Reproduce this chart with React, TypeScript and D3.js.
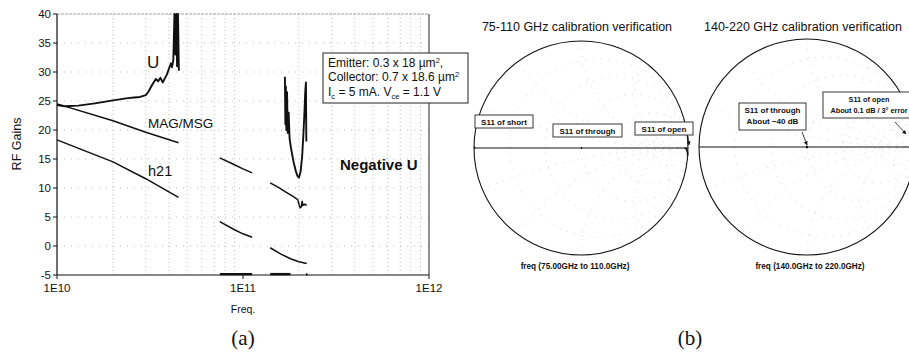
import React from 'react';
import * as d3 from 'd3';

type P = [number, number];

// ---------- (a) RF gains data ----------
const yTicks = [-5, 0, 5, 10, 15, 20, 25, 30, 35, 40];
const yGrid = [0, 5, 10, 15, 20, 25, 30, 35];
const xTickValues = [1e10, 1e11, 1e12];
const xTickLabels = ['1E10', '1E11', '1E12'];

const uLow: P[] = [
  [1e10, 24.3], [1.1e10, 24.1], [1.3e10, 24.2], [1.6e10, 24.6], [2e10, 25.1], [2.4e10, 25.5],
  [2.6e10, 25.6], [2.8e10, 25.7], [3e10, 26], [3.1e10, 26.6], [3.25e10, 27.8], [3.4e10, 28.8],
  [3.5e10, 28.4], [3.6e10, 29], [3.7e10, 28.2], [3.8e10, 28.9], [3.9e10, 29.6], [4.0e10, 30.6],
  [4.1e10, 31.5], [4.15e10, 30.8], [4.22e10, 32], [4.28e10, 40], [4.33e10, 33], [4.38e10, 40],
  [4.42e10, 31], [4.47e10, 40], [4.52e10, 30.2],
];
const magLow: P[] = [[1e10, 24.5], [2e10, 21.6], [3e10, 19.6], [4.5e10, 17.8]];
const h21Low: P[] = [[1e10, 18.3], [2e10, 14.5], [3e10, 11.6], [4.5e10, 8.4]];

const magMid: P[] = [[7.5e10, 15.2], [9e10, 14.0], [1.0e11, 13.3], [1.12e11, 12.6]];
const h21Mid: P[] = [[7.5e10, 4.2], [9e10, 2.8], [1.0e11, 2.1], [1.12e11, 1.5]];

const uHigh: P[] = [
  [1.68e11, 29.2], [1.69e11, 21], [1.7e11, 27.5], [1.71e11, 20], [1.725e11, 26.5], [1.74e11, 19.5],
  [1.76e11, 23], [1.78e11, 18.5], [1.82e11, 16.5], [1.87e11, 14.5], [1.92e11, 13], [1.96e11, 12.1],
  [2.0e11, 11.8], [2.04e11, 12.8], [2.08e11, 15.5], [2.11e11, 19], [2.14e11, 23], [2.16e11, 26.5],
  [2.18e11, 28.2], [2.19e11, 18],
];
const magHigh: P[] = [
  [1.4e11, 10.9], [1.55e11, 10.1], [1.7e11, 9.3], [1.85e11, 8.6], [1.97e11, 8.0], [2.0e11, 7.2],
  [2.03e11, 6.6], [2.06e11, 6.8], [2.08e11, 7.8], [2.1e11, 7.0], [2.15e11, 7.2], [2.2e11, 7.0],
];
const h21High: P[] = [[1.4e11, -0.3], [1.6e11, -1.4], [1.8e11, -2.2], [2.0e11, -2.7], [2.2e11, -3.0]];

const uClipA: P[] = [[7.5e10, -4.85], [1.12e11, -4.85]];
const uClipB: P[] = [[1.4e11, -4.85], [1.8e11, -4.85]];
const uClipC: P[] = [[2.18e11, -4.9], [2.22e11, -4.9]];

const thinSeries = [magLow, h21Low, magMid, h21Mid, magHigh, h21High];
const thickSeries = [uLow, uHigh];
const clipSeries = [uClipA, uClipB, uClipC];

// ---------- (b) Smith chart data ----------
const resistanceCircles = [0.2, 0.5, 1, 2, 5];
const reactanceArcs = [0.2, 0.5, 1, 2, 5];

const smith1Short: P[] = [[-0.995, 0.0], [-0.99, 0.01]];
const smith1Through: P[] = [[0.0, 0.0], [0.01, 0.0]];
const smith1Open: P[] = [[0.97, 0.0], [0.985, -0.01], [0.995, -0.04], [0.998, -0.07]];
const smith2Through: P[] = [[-0.01, 0.0], [0.01, 0.0]];
const smith2Open: P[] = [[0.96, 0.01], [0.98, 0.0], [0.995, -0.01]];

const FONT = '"Liberation Sans", Arial, sans-serif';

function SmithChart({ cx, cy, r, clipId }: { cx: number; cy: number; r: number; clipId: string }) {
  const gx = d3.scaleLinear().domain([-1, 1]).range([cx - r, cx + r]);
  const gy = d3.scaleLinear().domain([-1, 1]).range([cy + r, cy - r]);
  const k = r;
  return (
    <g>
      <defs>
        <clipPath id={clipId}>
          <circle cx={cx} cy={cy} r={r} />
        </clipPath>
      </defs>
      <g clipPath={`url(#${clipId})`} stroke="#b5b5b5" strokeWidth={0.7} strokeDasharray="0.8,7" fill="none">
        {resistanceCircles.map((rv) => (
          <circle key={'r' + rv} cx={gx(rv / (1 + rv))} cy={gy(0)} r={k / (1 + rv)} />
        ))}
        {reactanceArcs.map((xv) => (
          <g key={'x' + xv}>
            <circle cx={gx(1)} cy={gy(1 / xv)} r={k / xv} />
            <circle cx={gx(1)} cy={gy(-1 / xv)} r={k / xv} />
          </g>
        ))}
      </g>
      <circle cx={cx} cy={cy} r={r} fill="none" stroke="#111" strokeWidth={1.1} />
      <line x1={gx(-1)} x2={gx(1)} y1={gy(0)} y2={gy(0)} stroke="#111" strokeWidth={1.1} />
    </g>
  );
}

function Box({ x, y, w, h, lines, size = 8 }: { x: number; y: number; w: number; h: number; lines: string[]; size?: number }) {
  return (
    <g>
      <rect x={x} y={y} width={w} height={h} fill="#fff" stroke="#222" strokeWidth={0.9} />
      {lines.map((t, i) => (
        <text
          key={i}
          x={x + w / 2}
          y={y + 9.5 + i * 11}
          textAnchor="middle"
          fontFamily={FONT}
          fontSize={size}
          fontWeight="bold"
          fill="#111"
        >
          {t}
        </text>
      ))}
    </g>
  );
}

export default function App() {
  const x = d3.scaleLog().domain([1e10, 1e12]).range([57, 429]);
  const y = d3.scaleLinear().domain([-5, 40]).range([275, 14]);
  const line = d3.line<P>().x((d) => x(d[0])).y((d) => y(d[1]));

  const minor: number[] = [];
  for (const dec of [1e10, 1e11]) for (let m = 2; m <= 9; m++) minor.push(m * dec);

  const s1 = { cx: 581, cy: 148, r: 107 };
  const s2 = { cx: 807, cy: 147, r: 108 };
  const g1x = d3.scaleLinear().domain([-1, 1]).range([s1.cx - s1.r, s1.cx + s1.r]);
  const g1y = d3.scaleLinear().domain([-1, 1]).range([s1.cy + s1.r, s1.cy - s1.r]);
  const g2x = d3.scaleLinear().domain([-1, 1]).range([s2.cx - s2.r, s2.cx + s2.r]);
  const g2y = d3.scaleLinear().domain([-1, 1]).range([s2.cy + s2.r, s2.cy - s2.r]);
  const l1 = d3.line<P>().x((d) => g1x(d[0])).y((d) => g1y(d[1]));
  const l2 = d3.line<P>().x((d) => g2x(d[0])).y((d) => g2y(d[1]));

  return (
    <svg
      width={909}
      height={354}
      style={{ position: 'absolute', left: 0, top: 0, background: '#fff' }}
      fontFamily={FONT}
    >
      <rect x={0} y={0} width={909} height={354} fill="#fff" />
      <defs>
        <marker id="arr" viewBox="0 0 10 10" refX={9} refY={5} markerWidth={5} markerHeight={5} orient="auto">
          <path d="M0,0 L10,5 L0,10 z" fill="#111" />
        </marker>
      </defs>

      {/* ---------- (a) ---------- */}
      <g stroke="#a0a0a0" strokeWidth={0.7} strokeDasharray="1,3">
        {minor.map((f) => (
          <line key={f} x1={x(f)} x2={x(f)} y1={y(40)} y2={y(-5)} />
        ))}
        {yGrid.map((v) => (
          <line key={v} x1={x(1e10)} x2={x(1e12)} y1={y(v)} y2={y(v)} strokeDasharray="1,6" />
        ))}
        <line x1={x(1e10)} x2={x(1e12)} y1={y(40)} y2={y(40)} strokeDasharray="3,1" stroke="#777" />
      </g>
      <line x1={x(1e12)} x2={x(1e12)} y1={y(40)} y2={y(-5)} stroke="#222" strokeWidth={1} />
      <line x1={x(1e10)} x2={x(1e10)} y1={y(40)} y2={y(-5)} stroke="#111" strokeWidth={1.2} />
      <line x1={x(1e10)} x2={x(1e12)} y1={y(-5)} y2={y(-5)} stroke="#111" strokeWidth={1.2} />

      {yTicks.map((v) => (
        <g key={v}>
          <line x1={x(1e10) - 4} x2={x(1e10)} y1={y(v)} y2={y(v)} stroke="#111" strokeWidth={1} />
          <text x={x(1e10) - 6} y={y(v) + 4} textAnchor="end" fontSize={11.5} fill="#111">
            {v}
          </text>
        </g>
      ))}
      {xTickValues.map((v, i) => (
        <g key={v}>
          <line x1={x(v)} x2={x(v)} y1={y(-5)} y2={y(-5) + 4} stroke="#111" strokeWidth={1} />
          <text x={x(v)} y={y(-5) + 17} textAnchor="middle" fontSize={11.5} fill="#111">
            {xTickLabels[i]}
          </text>
        </g>
      ))}
      <text x={243} y={313} textAnchor="middle" fontSize={10.5} fill="#111">
        Freq.
      </text>
      <text transform="translate(21,144) rotate(-90)" textAnchor="middle" fontSize={12.5} fill="#111">
        RF Gains
      </text>

      {thinSeries.map((s, i) => (
        <path key={'t' + i} d={line(s) || ''} fill="none" stroke="#111" strokeWidth={1.5} />
      ))}
      {thickSeries.map((s, i) => (
        <path key={'u' + i} d={line(s) || ''} fill="none" stroke="#111" strokeWidth={1.9} strokeLinejoin="round" />
      ))}
      {clipSeries.map((s, i) => (
        <path key={'c' + i} d={line(s) || ''} fill="none" stroke="#111" strokeWidth={2.4} />
      ))}

      <text x={147} y={68} fontSize={17} fill="#111">U</text>
      <text x={148} y={128} fontSize={13.5} fill="#111">MAG/MSG</text>
      <text x={148} y={176} fontSize={14.5} fill="#111">h21</text>
      <text x={340} y={170} fontSize={15} fontWeight="bold" fill="#111">Negative U</text>

      <rect x={323} y={53} width={145} height={50} fill="#fff" stroke="#222" strokeWidth={1} />
      <text x={328} y={67} fontSize={12} fill="#111">
        Emitter: 0.3 x 18 µm<tspan fontSize={7.5} dy={-4}>2</tspan>
        <tspan dy={4}>,</tspan>
      </text>
      <text x={328} y={81} fontSize={12} fill="#111">
        Collector: 0.7 x 18.6 µm<tspan fontSize={7.5} dy={-4}>2</tspan>
      </text>
      <text x={328} y={96} fontSize={12} fill="#111">
        I<tspan fontSize={7.5} dy={3}>c</tspan>
        <tspan dy={-3}> = 5 mA. V</tspan>
        <tspan fontSize={7.5} dy={3}>ce</tspan>
        <tspan dy={-3}> = 1.1 V</tspan>
      </text>

      <text x={243} y={345} textAnchor="middle" fontSize={21} fontFamily='"Liberation Serif", serif' fill="#111">
        (a)
      </text>

      {/* ---------- (b) ---------- */}
      <text x={577} y={31} textAnchor="middle" fontSize={12.5} fill="#111">
        75-110 GHz calibration verification
      </text>
      <SmithChart cx={s1.cx} cy={s1.cy} r={s1.r} clipId="sc1" />
      <path d={l1(smith1Short) || ''} stroke="#111" strokeWidth={2} fill="none" />
      <path d={l1(smith1Through) || ''} stroke="#111" strokeWidth={2} fill="none" />
      <path d={l1(smith1Open) || ''} stroke="#111" strokeWidth={1.6} fill="none" />
      <Box x={475} y={115} w={58} h={13} lines={['S11 of short']} />
      <Box x={553} y={124} w={69} h={13} lines={['S11 of through']} />
      <Box x={635} y={122} w={58} h={13} lines={['S11 of open']} />
      <line x1={688} y1={136} x2={689} y2={145} stroke="#111" strokeWidth={0.8} markerEnd="url(#arr)" />
      <text x={575} y={269} textAnchor="middle" fontSize={8.2} fontWeight="bold" fill="#111">
        freq (75.00GHz to 110.0GHz)
      </text>

      <text x={803} y={31} textAnchor="middle" fontSize={12.5} fill="#111">
        140-220 GHz calibration verification
      </text>
      <SmithChart cx={s2.cx} cy={s2.cy} r={s2.r} clipId="sc2" />
      <path d={l2(smith2Through) || ''} stroke="#111" strokeWidth={2.5} fill="none" />
      <path d={l2(smith2Open) || ''} stroke="#111" strokeWidth={1.6} fill="none" />
      <Box x={739} y={103} w={67} h={27} lines={['S11 of through', 'About \u221240 dB']} />
      <Box x={823} y={92} w={92} h={26} size={7.3} lines={['S11 of open', 'About 0.1 dB / 3\u00b0 error']} />
      <line x1={895} y1={122} x2={906} y2={134} stroke="#111" strokeWidth={0.8} markerEnd="url(#arr)" />
      <line x1={802} y1={132} x2={807} y2={145} stroke="#111" strokeWidth={0.8} markerEnd="url(#arr)" />
      <text x={810} y={269} textAnchor="middle" fontSize={8.2} fontWeight="bold" fill="#111">
        freq (140.0GHz to 220.0GHz)
      </text>

      <text x={690} y={345} textAnchor="middle" fontSize={21} fontFamily='"Liberation Serif", serif' fill="#111">
        (b)
      </text>
    </svg>
  );
}
